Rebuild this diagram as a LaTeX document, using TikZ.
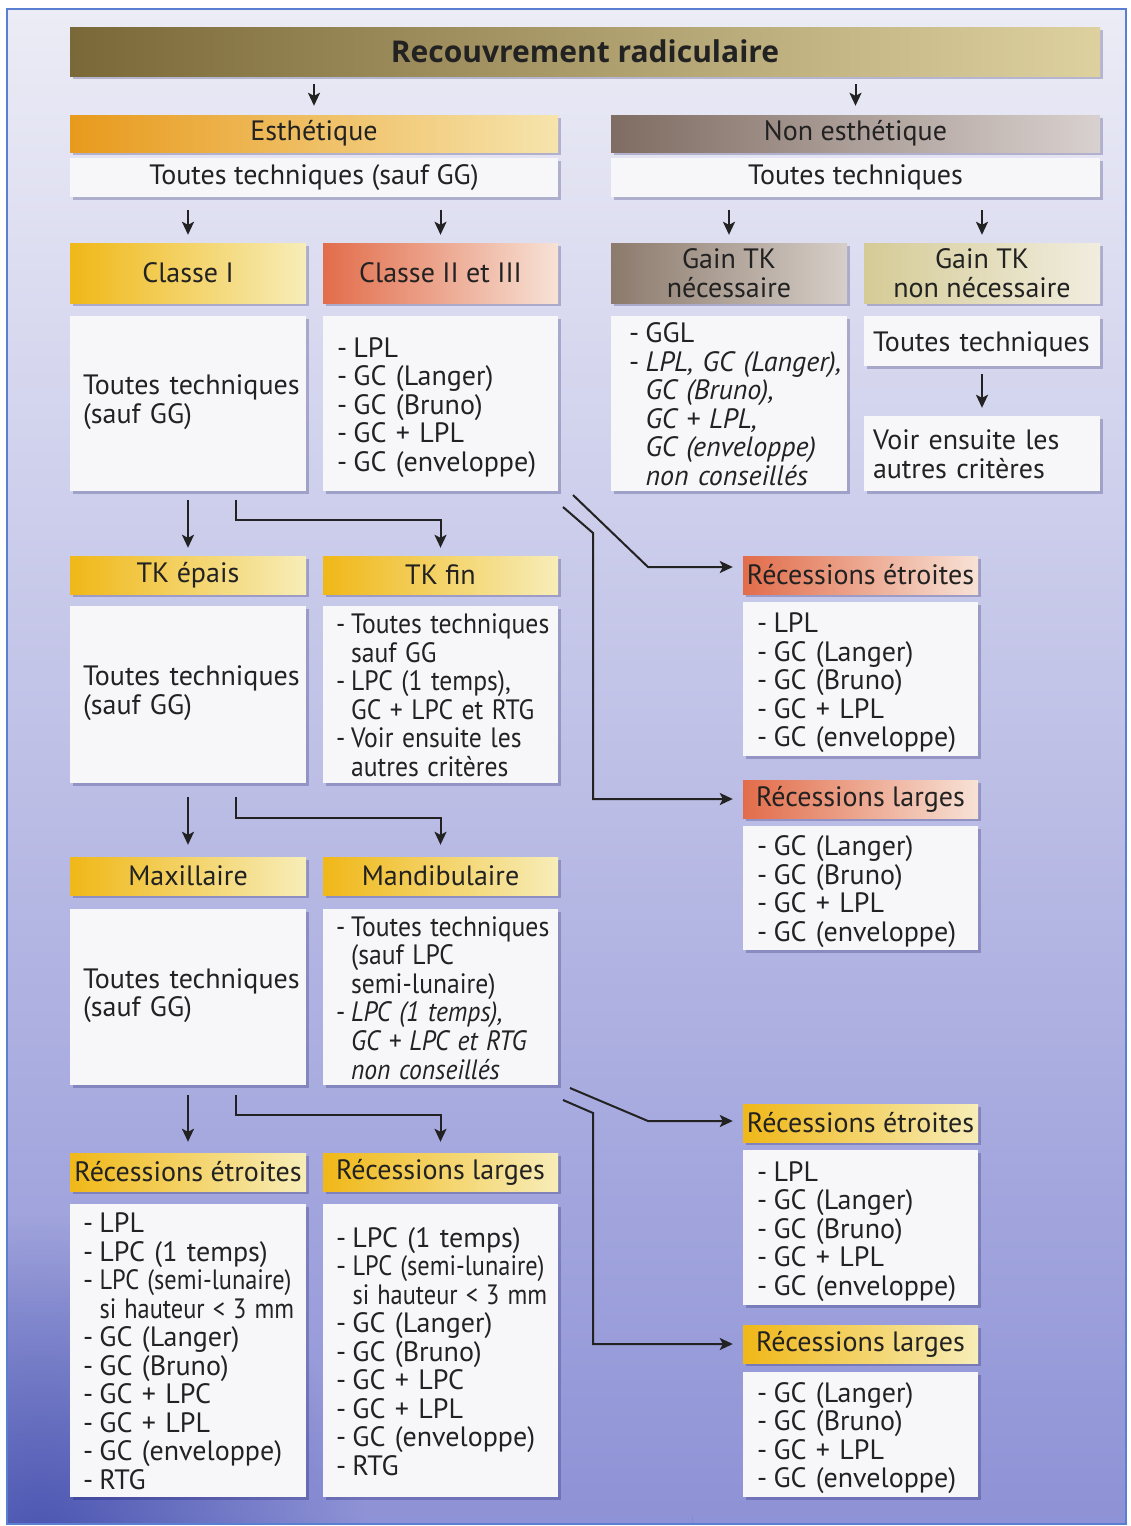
\documentclass[tikz,border=0pt]{standalone}
\usepackage{fontspec}
\setmainfont{PT Sans}
\newfontfamily\titlefont{Open Sans}
\usetikzlibrary{arrows.meta,calc,shadows,fadings}
\definecolor{bgtop}{HTML}{ECECF6}
\definecolor{bgmid}{HTML}{B0B1E0}
\definecolor{bgbot}{HTML}{8E92D6}
\definecolor{bgdeep}{HTML}{3F4BAA}
\definecolor{framec}{HTML}{5B7FD0}
\definecolor{ink}{HTML}{222222}
\definecolor{boxw}{HTML}{F7F7F9}
\definecolor{titL}{HTML}{7A6838}
\definecolor{titR}{HTML}{DED1A0}
\definecolor{orL}{HTML}{E89A1C}
\definecolor{orR}{HTML}{F6E4AC}
\definecolor{grL}{HTML}{7F6C62}
\definecolor{grR}{HTML}{D9D1CF}
\definecolor{yeL}{HTML}{F0B818}
\definecolor{yeR}{HTML}{F7EDB8}
\definecolor{saL}{HTML}{E26C4A}
\definecolor{saR}{HTML}{F7E2D6}
\definecolor{gbL}{HTML}{8C7A6C}
\definecolor{gbR}{HTML}{D6CEC8}
\definecolor{khL}{HTML}{D5CB96}
\definecolor{khR}{HTML}{F1EDDF}
\tikzfading[name=bgfade, inner color=transparent!0, outer color=transparent!100]
\newcommand{\dl}{\makebox[16.5pt][l]{-}}
\newcommand{\ct}{\hspace*{16.5pt}}
\newcommand{\cnd}[1]{\scalebox{0.87}[1]{#1}}
\newcommand{\tl}[2][-5pt]{\raisebox{#1}[\height][\depth]{\begin{tabular}{@{}l@{}}#2\end{tabular}}}
\newcommand{\tln}[1]{\raisebox{-5pt}[\height][\depth]{\scalebox{0.915}[1]{\begin{tabular}{@{}l@{}}#1\end{tabular}}}}
\begin{document}
\begin{tikzpicture}[x=1pt,y=-1pt,
  every node/.style={font=\fontsize{28}{28.5}\selectfont, text=ink},
  shd/.style={drop shadow={shadow xshift=3pt,shadow yshift=-3pt,opacity=0.22,fill=black!70!blue}},
  hdr/.style 2 args={shd, left color=#1, right color=#2, draw=none, inner sep=0pt, align=center},
  wbox/.style={shd, fill=boxw, inner sep=0pt, align=center},
  lst/.style={shd, fill=boxw, align=left, inner xsep=14pt, inner ysep=0pt},
  arr/.style={draw=ink, line width=2pt, -{Stealth[length=13pt,width=12pt,inset=3pt]}}
]
\useasboundingbox (0,0) rectangle (1131,1526);
\fill[white] (0,0) rectangle (1131,1526);
\shade[top color=bgtop, middle color=bgmid, bottom color=bgbot] (7,9) rectangle (1126,1524);
\fill[bgdeep, fill opacity=0.85, path fading=bgfade, fit fading=false,
  fading transform={shift={(40,1540)}, scale=13}] (7,9) rectangle (1126,1524);
\draw[framec, line width=1.2pt] (7,9) rectangle (1126,1524);

% title
\node[hdr={titL}{titR}, minimum width=1030pt, minimum height=49pt, font=\titlefont\fontsize{30}{32}\selectfont\bfseries] (title) at (585,51.5) {Recouvrement radiculaire};

% row 1
\node[hdr={orL}{orR}, minimum width=488pt, minimum height=37pt] (esth) at (314,133.5) {Esthétique};
\node[wbox, minimum width=488pt, minimum height=39pt] (estw) at (314,177.5) {Toutes techniques (sauf GG)};
\node[hdr={grL}{grR}, minimum width=489pt, minimum height=37pt] (nonesth) at (855.5,133.5) {Non esthétique};
\node[wbox, minimum width=489pt, minimum height=39pt] (nonw) at (855.5,177.5) {Toutes techniques};

% row 2
\node[hdr={yeL}{yeR}, minimum width=236pt, minimum height=60pt] (c1h) at (188,273) {Classe I};
\node[hdr={saL}{saR}, minimum width=235pt, minimum height=60pt] (c2h) at (440.5,273) {Classe II et III};
\node[hdr={gbL}{gbR}, minimum width=236pt, minimum height=60pt] (g1h) at (729,273) {Gain TK\\nécessaire};
\node[hdr={khL}{khR}, minimum width=236pt, minimum height=60pt] (g2h) at (982,273) {Gain TK\\non nécessaire};

\node[lst, text width=210pt, inner xsep=13pt, minimum height=175pt] (c1w) at (188,403.5) {\tl[0pt]{Toutes techniques\\(sauf GG)}};
\node[lst, text width=207pt, minimum height=175pt] (c2w) at (440.5,403.5) {\tl{\dl LPL\\\dl GC (Langer)\\\dl GC (Bruno)\\\dl GC + LPL\\\dl GC (enveloppe)}};
\node[lst, text width=200pt, inner xsep=18pt, minimum height=175pt] (g1w) at (729,403.5) {\tl{\dl GGL\\\dl\textit{LPL, GC (Langer),}\\\ct\textit{GC (Bruno),}\\\ct\textit{GC + LPL,}\\\ct\textit{GC (enveloppe)}\\\ct\textit{non conseillés}}};
\node[lst, text width=218pt, inner xsep=9pt, minimum height=50pt] (g2w) at (982,341) {\tl{Toutes techniques}};
\node[lst, text width=218pt, inner xsep=9pt, minimum height=75pt] (g2v) at (982,453.5) {\tl{Voir ensuite les\\autres critères}};

% row 3
\node[hdr={yeL}{yeR}, minimum width=236pt, minimum height=38pt] (tkeh) at (188,575) {TK épais};
\node[hdr={yeL}{yeR}, minimum width=235pt, minimum height=38pt] (tkfh) at (440.5,575) {TK fin};
\node[lst, text width=210pt, inner xsep=13pt, minimum height=177pt] (tkew) at (188,694.5) {\tl[0pt]{Toutes techniques\\(sauf GG)}};
\node[lst, text width=209pt, inner xsep=13pt, minimum height=177pt] (tkfw) at (440.5,694.5) {\tln{\dl Toutes techniques\\\ct sauf GG\\\dl LPC (1 temps),\\\ct GC + LPC et RTG\\\dl Voir ensuite les\\\ct autres critères}};

% row 4
\node[hdr={yeL}{yeR}, minimum width=236pt, minimum height=38pt] (maxh) at (188,876) {Maxillaire};
\node[hdr={yeL}{yeR}, minimum width=235pt, minimum height=38pt] (manh) at (440.5,876) {Mandibulaire};
\node[lst, text width=210pt, inner xsep=13pt, minimum height=176pt] (maxw) at (188,997) {\tl[0pt]{Toutes techniques\\(sauf GG)}};
\node[lst, text width=209pt, inner xsep=13pt, minimum height=176pt] (manw) at (440.5,997) {\tln{\dl Toutes techniques\\\ct (sauf LPC\\\ct semi-lunaire)\\\dl\textit{LPC (1 temps),}\\\ct\textit{GC + LPC et RTG}\\\ct\textit{non conseillés}}};

% row 5
\node[hdr={yeL}{yeR}, minimum width=236pt, minimum height=38pt] (reh) at (188,1172) {Récessions étroites};
\node[hdr={yeL}{yeR}, minimum width=235pt, minimum height=38pt] (rlh) at (440.5,1172) {Récessions larges};
\node[lst, text width=210pt, inner xsep=13pt, minimum height=293pt] (rew) at (188,1350.5) {\tl{\dl LPL\\\dl LPC (1 temps)\\\dl\cnd{LPC (semi-lunaire)}\\\ct\cnd{si hauteur < 3 mm}\\\dl GC (Langer)\\\dl GC (Bruno)\\\dl GC + LPC\\\dl GC + LPL\\\dl GC (enveloppe)\\\dl RTG}};
\node[lst, text width=209pt, inner xsep=13pt, minimum height=293pt] (rlw) at (440.5,1350.5) {\tl{\dl LPC (1 temps)\\\dl\cnd{LPC (semi-lunaire)}\\\ct\cnd{si hauteur < 3 mm}\\\dl GC (Langer)\\\dl GC (Bruno)\\\dl GC + LPC\\\dl GC + LPL\\\dl GC (enveloppe)\\\dl RTG}};

% right column
\node[hdr={saL}{saR}, minimum width=235pt, minimum height=38pt] (rE1h) at (860.5,575) {Récessions étroites};
\node[lst, text width=207pt, minimum height=154pt] (rE1w) at (860.5,679) {\tl{\dl LPL\\\dl GC (Langer)\\\dl GC (Bruno)\\\dl GC + LPL\\\dl GC (enveloppe)}};
\node[hdr={saL}{saR}, minimum width=235pt, minimum height=38pt] (rL1h) at (860.5,799) {Récessions larges};
\node[lst, text width=207pt, minimum height=124pt] (rL1w) at (860.5,888) {\tl{\dl GC (Langer)\\\dl GC (Bruno)\\\dl GC + LPL\\\dl GC (enveloppe)}};
\node[hdr={yeL}{yeR}, minimum width=235pt, minimum height=38pt] (rE2h) at (860.5,1123) {Récessions étroites};
\node[lst, text width=207pt, minimum height=155pt] (rE2w) at (860.5,1227.5) {\tl{\dl LPL\\\dl GC (Langer)\\\dl GC (Bruno)\\\dl GC + LPL\\\dl GC (enveloppe)}};
\node[hdr={yeL}{yeR}, minimum width=235pt, minimum height=38pt] (rL2h) at (860.5,1344) {Récessions larges};
\node[lst, text width=207pt, minimum height=125pt] (rL2w) at (860.5,1434.5) {\tl{\dl GC (Langer)\\\dl GC (Bruno)\\\dl GC + LPL\\\dl GC (enveloppe)}};

% vertical arrows
\draw[arr, shorten <=8pt, shorten >=9pt] (title.south -| esth.north) -- (esth.north);
\draw[arr, shorten <=8pt, shorten >=9pt] (title.south -| nonesth.north) -- (nonesth.north);
\draw[arr, shorten <=13pt, shorten >=8pt] (estw.south -| c1h.north) -- (c1h.north);
\draw[arr, shorten <=13pt, shorten >=8pt] (estw.south -| c2h.north) -- (c2h.north);
\draw[arr, shorten <=13pt, shorten >=8pt] (nonw.south -| g1h.north) -- (g1h.north);
\draw[arr, shorten <=13pt, shorten >=8pt] (nonw.south -| g2h.north) -- (g2h.north);
\draw[arr, shorten <=8pt, shorten >=8pt] (g2w.south) -- (g2v.north);

\draw[arr, shorten <=9pt, shorten >=8pt] (c1w.south) -- (tkeh.north);
\draw[arr, shorten <=9pt, shorten >=8pt] ($(c1w.south)+(48,0)$) -- ++(0,29) -| (tkfh.north);
\draw[arr, shorten <=14pt, shorten >=12pt] (tkew.south) -- (maxh.north);
\draw[arr, shorten <=14pt, shorten >=12pt] ($(tkew.south)+(48,0)$) -- ++(0,35) -| (manh.north);
\draw[arr, shorten <=10pt, shorten >=11pt] (maxw.south) -- (reh.north);
\draw[arr, shorten <=10pt, shorten >=11pt] ($(maxw.south)+(48,0)$) -- ++(0,30) -| (rlh.north);

% right-side connectors
\coordinate (s1) at (573,495);
\coordinate (k1) at (648,567);
\coordinate (s2) at (563,507);
\coordinate (k2) at (593,533);
\draw[arr, shorten >=10pt] (s1) -- (k1) -- (k1 -| rE1h.west);
\draw[arr, shorten >=10pt] (s2) -- (k2) -- (k2 |- rL1h.west) -- (rL1h.west);
\coordinate (s3) at (570,1088);
\coordinate (k3) at (648,1121);
\coordinate (s4) at (563,1100);
\coordinate (k4) at (593,1113);
\draw[arr, shorten >=10pt] (s3) -- (k3) -- (k3 -| rE2h.west);
\draw[arr, shorten >=10pt] (s4) -- (k4) -- (k4 |- rL2h.west) -- (rL2h.west);
\end{tikzpicture}
\end{document}
